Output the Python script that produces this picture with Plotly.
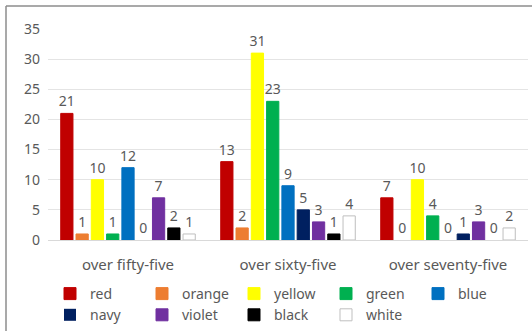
import plotly.graph_objects as go

categories = ["over fifty-five", "over sixty-five", "over seventy-five"]
series_names = ["red", "orange", "yellow", "green", "blue", "navy", "violet", "black", "white"]
red = [21, 13, 7]
orange = [1, 2, 0]
yellow = [10, 31, 10]
green = [1, 23, 4]
blue = [12, 9, 0]
navy = [0, 5, 1]
violet = [7, 3, 3]
black = [2, 1, 0]
white = [1, 4, 2]
y_ticks = [0, 5, 10, 15, 20, 25, 30, 35]

values = [red, orange, yellow, green, blue, navy, violet, black, white]
fills = ["#C00000", "#ED7D31", "#FFFF00", "#00B050", "#0070C0", "#002060", "#7030A0", "#000000", "#FFFFFF"]
lines = ["#C00000", "#ED7D31", "#FFFF00", "#00B050", "#0070C0", "#002060", "#7030A0", "#000000", "#BFBFBF"]

FONT = "Noto Sans"
GRAY = "#595959"

fig = go.Figure()
for name, vals, fc, lc in zip(series_names, values, fills, lines):
    fig.add_trace(go.Bar(
        name=name, x=categories, y=vals,
        marker=dict(color=fc, line=dict(color=lc, width=[1 if v > 0 else 0 for v in vals])),
        text=[str(v) for v in vals], textposition="outside", constraintext="none",
        textfont=dict(family=FONT, size=14, color=GRAY),
        cliponaxis=False,
    ))

W, H = 532, 331
L, R, T, B = 48, 4, 29, 91
pw, ph = W - L - R, H - T - B

def px(x):
    return (x - L) / pw

def py(y):
    return (H - B - y) / ph

fig.update_layout(
    width=W, height=H,
    margin=dict(l=L, r=R, t=T, b=B, autoexpand=False),
    barmode="group", bargap=0.14, bargroupgap=0.2,
    paper_bgcolor="white", plot_bgcolor="white",
    font=dict(family=FONT, color=GRAY),
    showlegend=True,
    legend=dict(orientation="h", xref="container", yref="container",
                x=50 / W, y=1 - 278 / H, xanchor="left", yanchor="top",
                entrywidth=47, entrywidthmode="pixels",
                font=dict(family=FONT, size=14, color=GRAY),
                itemwidth=30, tracegroupgap=0, traceorder="normal",
                bgcolor="rgba(0,0,0,0)"),
    xaxis=dict(showgrid=False, showline=True, linecolor="#D9D9D9", linewidth=1,
               ticks="", ticklabelstandoff=11,
               tickfont=dict(family=FONT, size=15, color=GRAY)),
    yaxis=dict(range=[0, 35], tickvals=y_ticks, showgrid=True, gridcolor="#E4E4E4",
               gridwidth=1, zeroline=False, showline=False,
               tickfont=dict(family=FONT, size=14, color=GRAY), ticklabelstandoff=7),
    shapes=[
        dict(type="line", xref="paper", yref="paper", x0=px(6), x1=px(6), y0=py(6), y1=py(H + 2),
             line=dict(color="#8C8C8C", width=1.5)),
        dict(type="line", xref="paper", yref="paper", x0=px(6), x1=px(W + 2), y0=py(6), y1=py(6),
             line=dict(color="#8C8C8C", width=1.5)),
    ],
)

fig.write_html("out.html")
